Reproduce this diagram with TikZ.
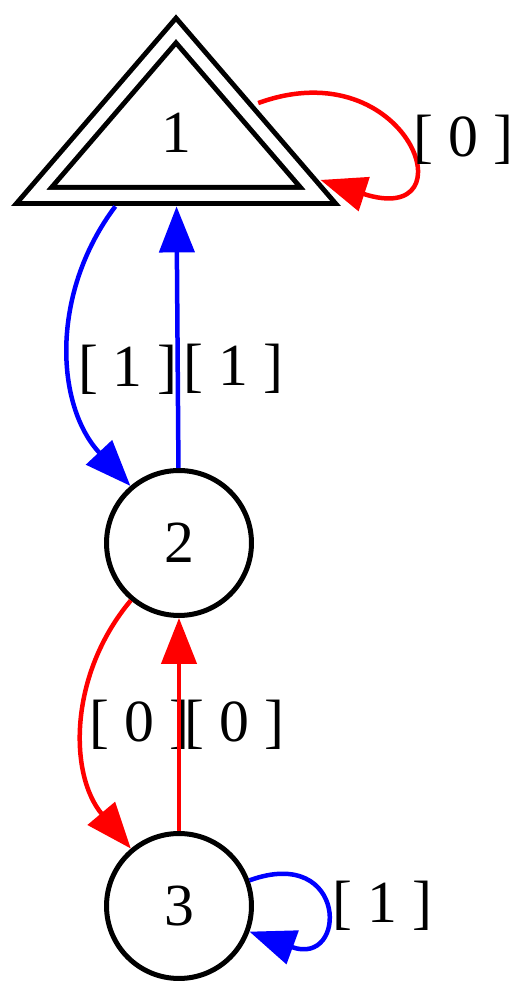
\documentclass[tikz,border=0pt]{standalone}
\usepackage{fontspec}
\setmainfont{Liberation Serif}
\usetikzlibrary{arrows.meta,shapes.geometric}

\begin{document}
\begin{tikzpicture}[x=0.02cm,y=0.02cm,
  state/.style={draw,circle,line width=0.1cm,minimum size=2.9cm,inner sep=0pt,
    font=\fontsize{34}{40}\selectfont},
  initstate/.style={draw,isosceles triangle,isosceles triangle stretches,
    shape border rotate=90,line width=0.1cm,double,double distance=0.22cm,
    minimum width=5.68cm,minimum height=3.3cm,inner sep=0pt,outer sep=0.22cm,
    font=\fontsize{34}{40}\selectfont},
  arr/.style={-{Triangle[length=0.92cm,width=0.7cm]},line width=0.09cm},
  lbl/.style={font=\fontsize{34}{40}\selectfont,text=black,inner sep=2pt}
]
\useasboundingbox (0,0) rectangle (529,1000);

% states
\node[initstate] (s1) at (176,867) {1};
\node[state] (s2) at (179,457) {2};
\node[state] (s3) at (179,94) {3};

% transitions
\draw[arr,blue] (s1) to[bend right=40] node[lbl,right,pos=0.57] {[ 1 ]} (s2);
\draw[arr,blue] (s2) -- node[lbl,right,pos=0.38] {[ 1 ]} (s1);
\draw[arr,red] (s2) to[bend right=40] node[lbl,right] {[ 0 ]} (s3);
\draw[arr,red] (s3) -- node[lbl,right] {[ 0 ]} (s2);
\draw[arr,red] (s1) to[out=20,in=-18,min distance=3.2cm] node[lbl,right,xshift=3pt] {[ 0 ]} (s1);
\draw[arr,blue] (s3) to[out=20,in=-20,min distance=2.1cm] node[lbl,right,xshift=2pt] {[ 1 ]} (s3);
\end{tikzpicture}
\end{document}
